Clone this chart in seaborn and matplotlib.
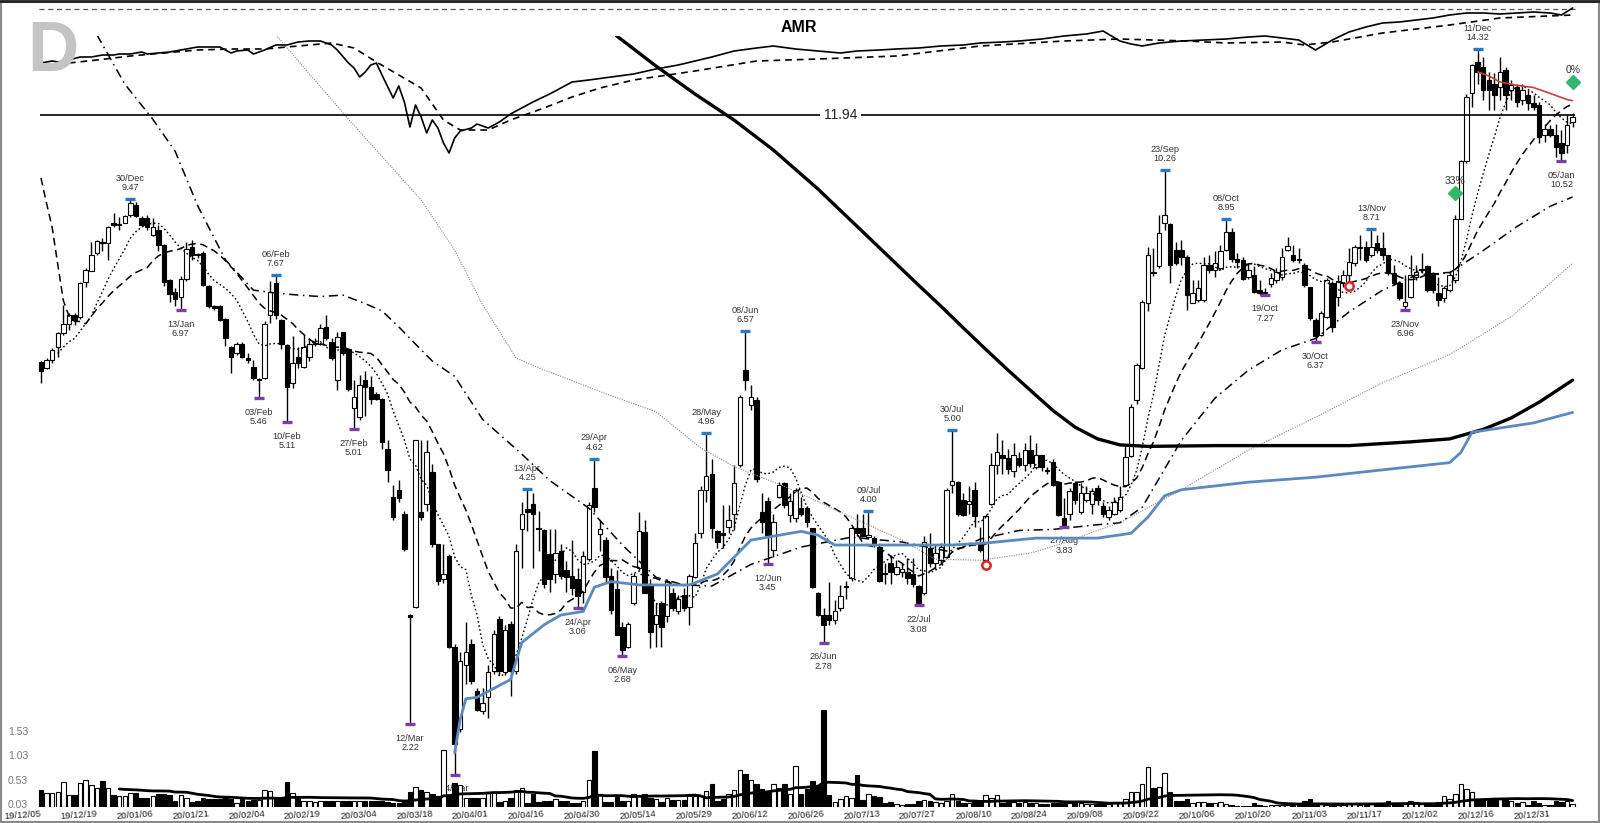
# AMR daily chart: candles, moving averages, relative strength strip and volume

import numpy as np
import pandas as pd
import matplotlib
matplotlib.use("Agg")
import matplotlib.pyplot as plt
from matplotlib.patches import Rectangle
from matplotlib.lines import Line2D
import seaborn as sns

# ---- daily prices, trading days 2019-12-05 .. 2021-01-07 ----
opens = [
    6.03, 5.94, 6.06, 6.29, 6.53, 6.71, 6.87, 6.83, 7.52, 7.76,
    8.16, 8.41, 8.38, 8.83, 8.80, 8.86, 9.05, 9.31, 8.99, 8.99,
    8.57, 8.69, 8.33, 7.57, 7.33, 7.22, 7.60, 8.28, 8.12, 8.15,
    7.45, 7.04, 7.04, 6.80, 6.29, 6.18, 6.35, 6.08, 5.95, 5.74,
    5.78, 6.87, 7.51, 6.77, 6.33, 5.70, 6.12, 5.96, 6.12, 6.34,
    6.35, 6.65, 6.38, 5.74, 6.56, 6.26, 5.32, 5.19, 5.74, 5.63,
    5.52, 5.45, 4.74, 4.16, 4.24, 3.97, 3.00, 3.07, 3.99, 4.08,
    4.45, 3.65, 3.31, 3.53, 2.75, 2.19, 2.61, 2.77, 2.43, 2.30,
    2.39, 2.57, 2.97, 2.56, 2.93, 2.57, 3.80, 4.02, 4.08, 3.81,
    3.79, 3.55, 3.36, 3.58, 3.40, 3.34, 3.31, 3.20, 3.50, 4.26,
    3.75, 3.69, 3.34, 3.22, 2.90, 2.75, 3.10, 3.42, 3.77, 3.27,
    2.93, 3.10, 2.99, 3.19, 3.03, 3.17, 3.07, 3.33, 3.76, 4.24,
    4.43, 3.78, 3.76, 3.83, 3.97, 4.54, 5.90, 5.36, 5.44, 3.99,
    4.11, 3.59, 4.16, 4.32, 3.95, 3.92, 4.03, 4.03, 3.81, 3.19,
    3.00, 3.00, 2.96, 3.06, 3.24, 3.32, 3.81, 3.81, 3.72, 3.71,
    3.62, 3.37, 3.46, 3.36, 3.38, 3.38, 3.36, 3.25, 3.19, 3.61,
    3.46, 3.49, 3.52, 4.30, 4.33, 4.12, 4.08, 4.24, 3.66, 3.49,
    4.08, 4.54, 4.67, 4.63, 4.47, 4.63, 4.54, 4.73, 4.52, 4.67,
    4.47, 4.58, 4.33, 3.92, 3.97, 4.32, 3.99, 4.12, 4.08, 4.26,
    4.05, 3.93, 3.97, 4.01, 4.30, 4.66, 5.43, 5.94, 7.10, 7.74,
    7.86, 8.86, 8.83, 8.23, 8.23, 8.07, 7.10, 7.17, 7.17, 7.89,
    7.78, 7.82, 8.23, 8.65, 8.03, 8.00, 7.64, 7.67, 7.36, 7.30,
    7.48, 7.57, 7.64, 8.23, 8.11, 8.00, 7.89, 7.43, 6.78, 6.50,
    6.84, 7.50, 7.23, 7.50, 7.68, 7.93, 8.26, 8.30, 8.11, 8.38,
    8.26, 8.11, 7.71, 7.50, 7.04, 7.23, 7.64, 7.78, 7.86, 7.71,
    7.30, 7.20, 7.36, 7.57, 8.97, 10.50, 12.67, 13.82, 13.63, 13.15,
    13.02, 12.90, 13.51, 12.79, 12.90, 12.44, 12.61, 12.33, 12.27, 11.29,
    11.50, 11.29, 11.04, 11.00, 11.72,
]
highs = [
    6.05, 6.10, 6.27, 6.56, 7.06, 6.90, 6.90, 7.52, 7.82, 8.40,
    8.46, 8.50, 8.79, 9.10, 9.00, 9.06, 9.47, 9.38, 9.02, 9.05,
    8.99, 8.80, 8.35, 7.60, 7.40, 7.65, 8.40, 8.45, 8.15, 8.20,
    7.47, 7.06, 7.06, 6.82, 6.31, 6.38, 6.38, 6.18, 6.07, 5.77,
    6.75, 7.54, 7.67, 6.80, 6.35, 6.48, 6.29, 6.50, 6.44, 6.45,
    6.71, 6.87, 6.45, 6.56, 6.56, 6.26, 5.74, 5.82, 5.88, 5.80,
    5.55, 5.47, 4.87, 4.30, 4.36, 4.00, 3.01, 4.87, 4.87, 4.87,
    4.55, 3.65, 3.65, 3.55, 2.77, 2.71, 2.94, 2.81, 2.45, 2.45,
    2.61, 2.88, 2.99, 2.92, 2.95, 3.65, 4.10, 4.25, 4.20, 4.00,
    3.80, 3.80, 3.80, 3.65, 3.48, 3.69, 3.42, 3.58, 4.10, 4.62,
    3.90, 3.72, 3.42, 3.40, 2.94, 2.94, 3.37, 3.99, 3.90, 3.31,
    3.10, 3.12, 3.31, 3.23, 3.17, 3.23, 3.36, 3.76, 4.28, 4.96,
    4.61, 3.79, 4.07, 4.07, 4.54, 5.51, 6.57, 5.66, 5.48, 4.20,
    4.16, 3.97, 4.33, 4.33, 4.20, 4.26, 4.16, 4.05, 3.81, 3.20,
    3.06, 3.29, 3.13, 3.26, 3.30, 3.83, 3.97, 3.97, 4.00, 3.73,
    3.64, 3.46, 3.54, 3.49, 3.46, 3.51, 3.51, 3.26, 3.73, 3.76,
    3.64, 3.66, 4.26, 5.00, 4.35, 4.20, 4.28, 4.33, 3.83, 3.97,
    4.69, 4.96, 4.86, 4.75, 4.82, 4.71, 4.82, 4.93, 4.82, 4.67,
    4.52, 4.61, 4.35, 4.14, 4.26, 4.35, 4.32, 4.28, 4.26, 4.30,
    4.10, 4.05, 4.16, 4.28, 4.79, 5.38, 6.02, 7.17, 8.30, 8.26,
    9.06, 10.26, 8.86, 8.40, 8.45, 8.11, 7.57, 7.57, 8.07, 8.11,
    8.19, 8.34, 8.95, 8.73, 8.15, 8.07, 7.93, 7.86, 7.57, 7.40,
    7.71, 7.82, 8.26, 8.53, 8.34, 8.26, 7.93, 7.43, 6.81, 6.94,
    7.61, 7.54, 7.68, 7.78, 8.26, 8.34, 8.58, 8.42, 8.71, 8.58,
    8.65, 8.11, 7.89, 7.54, 7.68, 8.11, 7.89, 8.15, 7.89, 7.74,
    7.64, 7.45, 7.74, 9.05, 10.55, 12.65, 13.75, 14.32, 14.01, 13.45,
    13.39, 14.01, 13.63, 13.15, 13.02, 13.02, 12.79, 12.61, 12.38, 11.66,
    11.60, 11.66, 11.45, 11.93, 11.99,
]
lows = [
    5.70, 5.92, 6.01, 6.12, 6.50, 6.59, 6.68, 6.80, 7.43, 7.75,
    8.11, 8.20, 8.00, 8.75, 8.70, 8.85, 9.00, 9.00, 8.78, 8.70,
    8.55, 8.20, 7.45, 7.12, 7.05, 6.97, 7.55, 8.00, 8.05, 7.45,
    7.00, 6.97, 6.75, 6.30, 5.85, 6.15, 6.10, 6.02, 5.74, 5.46,
    5.75, 6.72, 6.80, 6.25, 5.11, 5.62, 5.93, 5.94, 6.05, 6.30,
    6.33, 6.41, 6.07, 5.58, 6.16, 5.57, 5.01, 5.14, 5.20, 5.38,
    5.43, 4.74, 4.33, 3.90, 4.10, 3.58, 2.22, 3.06, 3.90, 4.00,
    3.62, 3.26, 3.28, 2.74, 1.93, 2.17, 2.48, 2.48, 2.30, 2.28,
    2.26, 2.55, 2.54, 2.54, 2.40, 2.55, 3.42, 3.78, 3.42, 3.58,
    3.23, 3.20, 3.28, 3.31, 3.20, 3.17, 3.06, 3.10, 3.48, 3.99,
    3.58, 3.28, 3.01, 2.84, 2.68, 2.74, 3.08, 3.40, 3.19, 2.74,
    2.75, 2.75, 2.94, 3.03, 3.01, 3.03, 2.92, 3.32, 3.71, 4.10,
    3.71, 3.61, 3.61, 3.76, 3.79, 4.52, 5.58, 5.28, 4.33, 3.76,
    3.45, 3.52, 4.14, 4.03, 3.88, 3.88, 3.94, 3.83, 3.23, 2.99,
    2.78, 2.92, 2.93, 3.03, 3.14, 3.30, 3.73, 3.73, 3.71, 3.62,
    3.29, 3.27, 3.27, 3.35, 3.33, 3.27, 3.24, 3.08, 3.17, 3.43,
    3.41, 3.46, 3.51, 4.20, 3.94, 3.94, 3.97, 3.83, 3.57, 3.47,
    4.07, 4.43, 4.43, 4.43, 4.39, 4.52, 4.47, 4.52, 4.49, 4.47,
    4.43, 4.28, 3.94, 3.83, 3.90, 4.08, 3.97, 4.10, 3.97, 4.07,
    3.93, 3.90, 3.95, 3.99, 4.28, 4.64, 5.38, 5.92, 6.95, 7.66,
    7.82, 8.69, 7.50, 7.89, 7.89, 6.97, 7.10, 7.13, 7.13, 7.71,
    7.64, 7.78, 8.19, 7.96, 7.82, 7.57, 7.60, 7.30, 7.26, 7.27,
    7.43, 7.50, 7.57, 8.19, 7.96, 7.93, 7.43, 6.78, 6.37, 6.48,
    6.81, 6.55, 7.04, 7.43, 7.43, 7.86, 8.00, 7.96, 8.07, 8.15,
    8.00, 7.68, 7.46, 7.17, 6.96, 7.20, 7.57, 7.71, 7.33, 7.30,
    7.04, 7.13, 7.33, 7.50, 8.95, 10.45, 12.21, 13.00, 12.44, 12.10,
    12.10, 12.44, 12.10, 12.44, 12.21, 12.27, 12.10, 12.10, 11.04, 11.09,
    11.24, 10.64, 10.52, 10.74, 11.55,
]
closes = [
    5.88, 6.07, 6.24, 6.53, 6.71, 6.87, 6.77, 7.50, 7.78, 8.12,
    8.42, 8.38, 8.77, 8.82, 8.83, 9.03, 9.36, 9.03, 8.81, 8.77,
    8.75, 8.33, 7.52, 7.29, 7.19, 7.60, 8.24, 8.10, 8.10, 7.47,
    7.04, 7.00, 6.77, 6.44, 6.12, 6.35, 6.12, 6.07, 5.77, 5.75,
    6.71, 7.33, 6.87, 6.35, 5.63, 6.02, 6.02, 6.29, 6.35, 6.35,
    6.62, 6.44, 6.10, 6.47, 6.18, 5.60, 5.48, 5.66, 5.63, 5.45,
    5.45, 4.84, 4.48, 3.93, 4.14, 3.60, 2.98, 4.87, 3.93, 4.70,
    3.65, 3.30, 3.36, 2.75, 2.10, 2.64, 2.71, 2.50, 2.31, 2.35,
    2.56, 2.85, 2.57, 2.88, 2.57, 3.58, 3.97, 3.99, 3.97, 3.80,
    3.27, 3.31, 3.56, 3.34, 3.33, 3.23, 3.16, 3.53, 4.06, 4.04,
    3.80, 3.33, 3.04, 2.84, 2.72, 2.93, 3.34, 3.78, 3.19, 2.86,
    3.00, 2.90, 3.30, 3.06, 3.14, 3.06, 3.34, 3.66, 4.24, 4.41,
    3.81, 3.67, 3.74, 3.90, 4.32, 5.48, 5.74, 5.48, 4.37, 3.88,
    3.74, 3.88, 4.30, 4.07, 4.11, 4.24, 3.97, 3.88, 3.24, 3.00,
    2.92, 2.96, 3.03, 3.16, 3.25, 3.81, 3.76, 3.73, 3.74, 3.66,
    3.30, 3.36, 3.38, 3.43, 3.41, 3.32, 3.27, 3.10, 3.67, 3.46,
    3.56, 3.62, 4.24, 4.35, 3.97, 3.95, 4.11, 3.94, 3.59, 3.94,
    4.54, 4.71, 4.63, 4.49, 4.67, 4.54, 4.73, 4.56, 4.67, 4.52,
    4.46, 4.30, 3.95, 3.85, 4.22, 4.12, 4.20, 4.20, 4.22, 4.12,
    3.97, 4.01, 4.10, 4.16, 4.64, 5.33, 5.99, 7.13, 8.11, 7.71,
    8.61, 9.06, 7.89, 7.93, 8.07, 7.26, 7.30, 7.40, 7.89, 7.78,
    7.93, 8.19, 8.65, 8.03, 7.96, 7.60, 7.78, 7.33, 7.30, 7.31,
    7.61, 7.74, 8.07, 8.32, 8.00, 7.99, 7.46, 6.81, 6.48, 6.91,
    7.57, 6.65, 7.54, 7.68, 7.96, 8.30, 8.28, 8.00, 8.30, 8.23,
    8.11, 7.71, 7.50, 7.20, 7.13, 7.68, 7.74, 7.79, 7.36, 7.36,
    7.17, 7.40, 7.67, 8.97, 10.50, 12.56, 13.70, 13.45, 12.79, 12.79,
    12.61, 13.45, 12.61, 12.96, 12.38, 12.79, 12.33, 12.21, 11.24, 11.50,
    11.29, 10.93, 10.74, 11.60, 11.88,
]
# volume, millions
volume = [
    0.33, 0.27, 0.27, 0.29, 0.51, 0.24, 0.24, 0.49, 0.55, 0.45,
    0.38, 0.53, 0.39, 0.23, 0.22, 0.22, 0.27, 0.27, 0.17, 0.18,
    0.22, 0.26, 0.26, 0.23, 0.12, 0.23, 0.18, 0.10, 0.11, 0.18,
    0.15, 0.15, 0.15, 0.18, 0.15, 0.07, 0.15, 0.12, 0.14, 0.14,
    0.33, 0.32, 0.18, 0.18, 0.51, 0.27, 0.18, 0.12, 0.11, 0.10,
    0.11, 0.12, 0.11, 0.12, 0.12, 0.12, 0.12, 0.12, 0.12, 0.11,
    0.11, 0.12, 0.10, 0.07, 0.07, 0.12, 0.29, 0.40, 0.33, 0.29,
    0.26, 0.22, 1.17, 0.22, 0.48, 0.44, 0.18, 0.17, 0.18, 0.18,
    0.29, 0.27, 0.10, 0.12, 0.17, 0.34, 0.39, 0.07, 0.26, 0.10,
    0.11, 0.12, 0.15, 0.11, 0.12, 0.07, 0.07, 0.12, 0.54, 1.13,
    0.25, 0.09, 0.09, 0.19, 0.12, 0.11, 0.25, 0.21, 0.25, 0.18,
    0.16, 0.09, 0.18, 0.14, 0.14, 0.14, 0.21, 0.21, 0.21, 0.32,
    0.47, 0.11, 0.16, 0.26, 0.34, 0.74, 0.66, 0.54, 0.46, 0.35,
    0.30, 0.46, 0.39, 0.46, 0.26, 0.83, 0.25, 0.35, 0.52, 0.42,
    1.98, 0.23, 0.09, 0.16, 0.21, 0.18, 0.64, 0.14, 0.26, 0.21,
    0.19, 0.07, 0.09, 0.05, 0.04, 0.05, 0.05, 0.12, 0.14, 0.11,
    0.09, 0.07, 0.12, 0.26, 0.11, 0.07, 0.07, 0.09, 0.09, 0.23,
    0.18, 0.23, 0.07, 0.09, 0.09, 0.07, 0.09, 0.07, 0.07, 0.05,
    0.05, 0.07, 0.07, 0.07, 0.07, 0.09, 0.07, 0.05, 0.05, 0.05,
    0.05, 0.05, 0.09, 0.07, 0.16, 0.30, 0.30, 0.47, 0.81, 0.37,
    0.40, 0.69, 0.30, 0.12, 0.11, 0.16, 0.07, 0.09, 0.09, 0.07,
    0.07, 0.09, 0.05, 0.04, 0.02, 0.02, 0.02, 0.07, 0.04, 0.02,
    0.04, 0.04, 0.04, 0.04, 0.04, 0.04, 0.11, 0.16, 0.07, 0.05,
    0.04, 0.04, 0.04, 0.04, 0.05, 0.05, 0.04, 0.04, 0.05, 0.05,
    0.05, 0.11, 0.07, 0.05, 0.05, 0.11, 0.09, 0.05, 0.07, 0.05,
    0.09, 0.21, 0.16, 0.26, 0.47, 0.35, 0.30, 0.14, 0.14, 0.14,
    0.14, 0.16, 0.14, 0.11, 0.07, 0.09, 0.04, 0.11, 0.07, 0.04,
    0.04, 0.11, 0.09, 0.11, 0.05,
]
tick_labels = ['19/12/05', '19/12/19', '20/01/06', '20/01/21', '20/02/04', '20/02/19',
               '20/03/04', '20/03/18', '20/04/01', '20/04/16', '20/04/30', '20/05/14',
               '20/05/29', '20/06/12', '20/06/26', '20/07/13', '20/07/27', '20/08/10',
               '20/08/24', '20/09/08', '20/09/22', '20/10/06', '20/10/20', '20/11/03',
               '20/11/17', '20/12/02', '20/12/16', '20/12/31']
vol_ticks = [0.03, 0.53, 1.03, 1.53]

# first days of the 20-day average (carried in from before the window)
ma20_head = [10.03, 9.35, 8.75, 7.90, 7.15, 6.85, 6.75, 6.75]

# longer averages (trading-day index, value)
ma50_i = [10, 15, 20, 24, 28, 33, 38, 42, 46, 50, 54, 58, 61, 64, 66, 70, 74, 79, 86, 91,
          98, 104, 110, 115, 120, 127, 136, 145, 154, 163, 168, 175, 181, 189, 193, 197,
          204, 210, 216, 222, 228, 234, 240, 246, 252, 258, 264, 270, 274]
ma50_v = [14.9, 13.0, 11.8, 10.8, 9.3, 8.0, 7.36, 7.30, 7.26, 7.23, 7.26, 7.09, 6.95, 6.65,
          6.44, 6.05, 5.80, 5.15, 4.68, 4.35, 4.03, 3.64, 3.33, 3.26, 3.25, 3.45, 3.62, 3.72,
          3.67, 3.57, 3.70, 3.79, 3.80, 3.85, 3.87, 4.04, 4.86, 5.46, 5.90, 6.24, 6.44, 6.93,
          7.36, 7.67, 7.72, 8.21, 8.77, 9.28, 9.52]
ma100_i = [42, 55, 68, 74, 79, 85, 89, 101, 110, 118, 124, 133, 145, 154, 160, 168, 177,
           183, 189, 193, 204, 216, 228, 240, 252, 263, 268, 274]
ma100_v = [14.9, 11.8, 9.44, 8.22, 7.07, 6.10, 5.94, 5.53, 5.26, 4.76, 4.52, 4.28, 3.93,
           3.69, 3.50, 3.49, 3.56, 3.66, 3.79, 3.87, 4.24, 4.73, 5.18, 5.70, 6.16, 6.84,
           7.30, 7.93]
ma200_i = [102, 103, 110, 117, 124, 131, 139, 148, 157, 161, 165, 169, 173, 177, 181, 185,
           189, 193, 198, 210, 222, 234, 245, 252, 258, 263, 268, 274]
ma200_v = [15.3, 14.85, 13.67, 12.65, 11.77, 10.84, 9.73, 8.52, 7.46, 7.04, 6.63, 6.25,
           5.90, 5.58, 5.28, 5.04, 4.88, 4.80, 4.78, 4.79, 4.79, 4.79, 4.84, 4.88, 5.01,
           5.17, 5.40, 5.74]
vwap_i = [74, 75, 76, 78, 81, 84, 86, 90, 93, 97, 99, 102, 107, 113, 116, 121, 124, 127,
          136, 139, 142, 151, 163, 169, 178, 189, 195, 198, 201, 204, 216, 228, 240, 252,
          254, 256, 267, 274]
vwap_v = [2.05, 2.25, 2.38, 2.39, 2.45, 2.51, 2.78, 2.92, 3.00, 3.03, 3.24, 3.29, 3.26,
          3.26, 3.26, 3.36, 3.52, 3.69, 3.78, 3.74, 3.64, 3.64, 3.64, 3.66, 3.71, 3.71,
          3.76, 3.93, 4.17, 4.24, 4.33, 4.39, 4.48, 4.57, 4.70, 4.97, 5.10, 5.25]
stop_i = [257, 259, 261, 264, 267, 270, 273, 274]
stop_v = [13.45, 13.30, 13.08, 12.96, 12.88, 12.67, 12.46, 12.42]

# relative strength strip
rs_i = [0, 2, 3, 5, 7, 9, 11, 13, 14, 16, 18, 19, 21, 23, 25, 28, 30, 32, 34, 35, 37, 38,
        40, 42, 44, 46, 48, 50, 52, 53, 55, 56, 57, 58, 59, 60, 61, 63, 64, 65, 66, 67, 68,
        69, 70, 71, 72, 73, 74, 75, 77, 78, 80, 82, 84, 86, 88, 91, 95, 98, 102, 106, 110,
        114, 117, 120, 124, 128, 131, 135, 139, 143, 146, 150, 153, 157, 161, 165, 168,
        172, 175, 179, 183, 187, 190, 193, 195, 197, 200, 204, 208, 212, 216, 219, 222,
        225, 228, 231, 234, 237, 240, 243, 246, 249, 252, 255, 258, 261, 264, 267, 270,
        272, 274]
rs_v = [0.97, 0.99, 0.98, 1.00, 1.03, 1.03, 1.05, 1.05, 1.06, 1.06, 1.08, 1.06, 1.07, 1.08,
        1.10, 1.13, 1.13, 1.13, 1.07, 1.09, 1.10, 1.06, 1.10, 1.15, 1.15, 1.18, 1.19, 1.19,
        1.15, 1.10, 0.97, 0.92, 0.83, 0.88, 0.95, 0.97, 0.85, 0.62, 0.74, 0.58, 0.33, 0.55,
        0.43, 0.27, 0.40, 0.32, 0.17, 0.07, 0.22, 0.29, 0.32, 0.36, 0.32, 0.38, 0.46, 0.52,
        0.58, 0.66, 0.78, 0.80, 0.83, 0.86, 0.91, 0.95, 0.99, 1.03, 1.09, 1.12, 1.14, 1.11,
        1.09, 1.07, 1.09, 1.10, 1.11, 1.12, 1.14, 1.15, 1.17, 1.18, 1.19, 1.21, 1.24, 1.26,
        1.29, 1.19, 1.16, 1.14, 1.17, 1.19, 1.20, 1.21, 1.23, 1.24, 1.22, 1.20, 1.10, 1.20,
        1.28, 1.33, 1.37, 1.38, 1.40, 1.42, 1.45, 1.47, 1.47, 1.46, 1.47, 1.48, 1.47, 1.45,
        1.52]
rsma_i = [5, 10, 16, 22, 28, 34, 40, 46, 52, 56, 60, 64, 68, 72, 75, 80, 84, 90, 95, 100,
          106, 117, 128, 139, 153, 168, 183, 193, 205, 212, 222, 226, 231, 240, 252, 261, 274]
rsma_v = [0.97, 1.00, 1.04, 1.07, 1.10, 1.11, 1.11, 1.14, 1.17, 1.12, 0.98, 0.85, 0.72,
          0.40, 0.30, 0.30, 0.40, 0.52, 0.63, 0.72, 0.80, 0.89, 0.99, 1.01, 1.04, 1.14, 1.19,
          1.21, 1.19, 1.17, 1.18, 1.15, 1.18, 1.27, 1.35, 1.42, 1.45]
rs_ref = 1.51

# swing highs / lows
hi_idx = [16, 42, 87, 99, 119, 126, 148, 163, 201, 212, 238, 257]
hi_lbl = ['30/Dec', '06/Feb', '13/Apr', '29/Apr', '28/May', '08/Jun', '09/Jul', '30/Jul',
          '23/Sep', '08/Oct', '13/Nov', '11/Dec']
hi_val = [9.47, 7.67, 4.25, 4.62, 4.96, 6.57, 4.00, 5.00, 10.26, 8.95, 8.71, 14.32]
lo_idx = [25, 39, 44, 56, 66, 74, 96, 104, 130, 140, 157, 183, 219, 228, 244, 272]
lo_lbl = ['13/Jan', '03/Feb', '10/Feb', '27/Feb', '12/Mar', '24/Mar', '24/Apr', '06/May',
          '12/Jun', '26/Jun', '22/Jul', '27/Aug', '19/Oct', '30/Oct', '23/Nov', '05/Jan']
lo_val = [6.97, 5.46, 5.11, 5.01, 2.22, 1.93, 3.06, 2.68, 3.45, 2.78, 3.08, 3.83, 7.27,
          6.37, 6.96, 10.52]

level = 11.94
alert_i = [169, 234]
alert_v = [3.44, 7.44]
sig_i = [253, 274]
sig_v = [9.62, 13.08]
sig_txt = ['33%', '0%']

# ---- derived series ----
df = pd.DataFrame({'open': opens, 'high': highs, 'low': lows, 'close': closes, 'vol': volume})
n = len(df)
idx = np.arange(n)
ma10 = df['close'].rolling(10, min_periods=4).mean()
ma20 = df['close'].rolling(20, min_periods=1).mean()
ma20.iloc[:len(ma20_head)] = ma20_head
vol_ma = df['vol'].rolling(20, min_periods=15).mean()
up = (df['close'] >= df['open']).values

# ---- figure ----
sns.set_theme(style="white")
plt.rcParams['font.family'] = ['Liberation Sans', 'DejaVu Sans']

W, H = 1600, 823
fig = plt.figure(figsize=(16, 8.23), dpi=100)
fig.patch.set_facecolor('white')

px_per_day = 5.59
x_left = -41 / px_per_day
x_right = (W - 41) / px_per_day


def line(axx, xs, ys, **kw):
    xs = np.asarray(xs, dtype=float)
    ys = np.asarray(ys, dtype=float)
    ok = ~np.isnan(ys)
    sns.lineplot(x=xs[ok], y=ys[ok], ax=axx, estimator=None, sort=False,
                 legend=False, **kw)


# price panel (log scale)
top_px = 36
ax = fig.add_axes([0, 0, 1, 1 - top_px / H])
ax.set_yscale('log')
ax.set_ylim(1.689, 14.85)
ax.set_xlim(x_left, x_right)
ax.axis('off')

ax.vlines(idx, df['low'], df['high'], color='black', lw=1.0, zorder=2)
lo_b = np.minimum(df['open'], df['close']).values
hi_b = np.maximum(df['open'], df['close']).values
hgt = np.maximum(hi_b - lo_b, lo_b * 0.004)
ax.bar(idx, hgt, bottom=lo_b, width=0.8, color=np.where(up, 'white', 'black'),
       edgecolor='black', linewidth=0.8, zorder=3)

line(ax, idx, ma10, color='black', lw=1.0, linestyle=(0, (1.2, 1.8)), zorder=4)
line(ax, idx, ma20, color='black', lw=1.1, linestyle=(0, (5, 3)), zorder=4)
line(ax, ma50_i, ma50_v, color='black', lw=1.1, linestyle=(0, (6, 3, 1, 3)), zorder=4)
line(ax, ma100_i, ma100_v, color='#8a8a8a', lw=0.8, linestyle=(0, (1, 1.2)), zorder=4)
line(ax, ma200_i, ma200_v, color='black', lw=2.4, zorder=4)
line(ax, vwap_i, vwap_v, color='#5a8bbf', lw=2.0, zorder=4)
line(ax, stop_i, stop_v, color='#c9403f', lw=1.2, zorder=4)

ax.hlines(level, idx[0] - 0.2, idx[-1] + 0.5, color='black', lw=1.2, zorder=4)
ax.text(n * 0.52, level, f"{level:.2f}", ha='center', va='center', fontsize=10,
        color='#222', zorder=5, bbox=dict(fc='white', ec='none', pad=3))

for i, lab, v in zip(hi_idx, hi_lbl, hi_val):
    ax.plot(i, v, marker='_', ms=7.5, mew=2.4, color='#2a7bc2', zorder=5)
    ax.annotate(f"{lab}\n{v:.2f}", (i, v), xytext=(0, 5), textcoords='offset points',
                ha='center', va='bottom', fontsize=6.6, color='#333', linespacing=1.05)
for i, lab, v in zip(lo_idx, lo_lbl, lo_val):
    ax.plot(i, v, marker='_', ms=7.5, mew=2.4, color='#7a3fa2', zorder=5)
    ax.annotate(f"{lab}\n{v:.2f}", (i, v), xytext=(0, -7), textcoords='offset points',
                ha='center', va='top', fontsize=6.6, color='#333', linespacing=1.05)

ax.plot(alert_i, alert_v, 'o', ms=6, mfc='white', mec='#e02424', mew=1.8,
        linestyle='none', zorder=6)
ax.plot(sig_i, sig_v, 'D', ms=7, color='#35b46c', linestyle='none', zorder=6)
for i, v, t in zip(sig_i, sig_v, sig_txt):
    ax.annotate(t, (i, v), xytext=(0, 5), textcoords='offset points', ha='center',
                va='bottom', fontsize=7.5, color='#333')

# relative strength strip at the top
axr = fig.add_axes([0, 0, 1, 1])
axr.set_xlim(x_left, x_right)
axr.set_ylim(-6.63, 1.6)
axr.axis('off')
axr.hlines(rs_ref, idx[0] - 0.3, idx[-1] + 0.5, color='#555', lw=0.9,
           linestyles=(0, (4, 3)))
line(axr, rs_i, rs_v, color='black', lw=1.2)
line(axr, rsma_i, rsma_v, color='black', lw=1.2, linestyle=(0, (4, 3)))

# volume panel
vol_px = 48.7
base_px = 806.5
vh = 0.26
axv = fig.add_axes([0, (H - base_px) / H, 1, vh])
axv.set_zorder(3)
axv.patch.set_alpha(0)
axv.set_xlim(x_left, x_right)
axv.set_ylim(0, vh * H / vol_px)
for s in axv.spines.values():
    s.set_visible(False)
axv.bar(idx, df['vol'], width=0.8, color=np.where(up, 'white', 'black'),
        edgecolor='black', linewidth=0.8, zorder=2)
line(axv, idx, vol_ma, color='black', lw=2.0, zorder=3)
axv.set_yticks([])
axv.set_xticks(idx[::10])
axv.set_xticklabels(tick_labels, rotation=4, ha='right', rotation_mode='anchor',
                    fontsize=6.8, color='#222')
axv.tick_params(axis='x', length=0, pad=2)
for v in vol_ticks:
    axv.text(0.005, v, f"{v:.2f}", transform=axv.get_yaxis_transform(), ha='left',
             va='center', fontsize=7.5, color='#777')

# titles and frame
fig.text(799 / W, 1 - 28 / H, 'AMR', ha='center', va='center', fontsize=11.5,
         fontweight='bold', color='black')
fig.text(53 / W, 1 - 53 / H, 'D', ha='center', va='center', fontsize=51,
         fontweight='bold', color='#c4c4c4')
fig.add_artist(Rectangle((0.0008, 0.001), 0.9984, 0.997, transform=fig.transFigure,
                         fill=False, ec='#8a8a8a', lw=1.5))
fig.add_artist(Line2D([0, 1], [0.9985, 0.9985], transform=fig.transFigure,
                      color='#222', lw=2))

fig.savefig('out.png', dpi=100)
